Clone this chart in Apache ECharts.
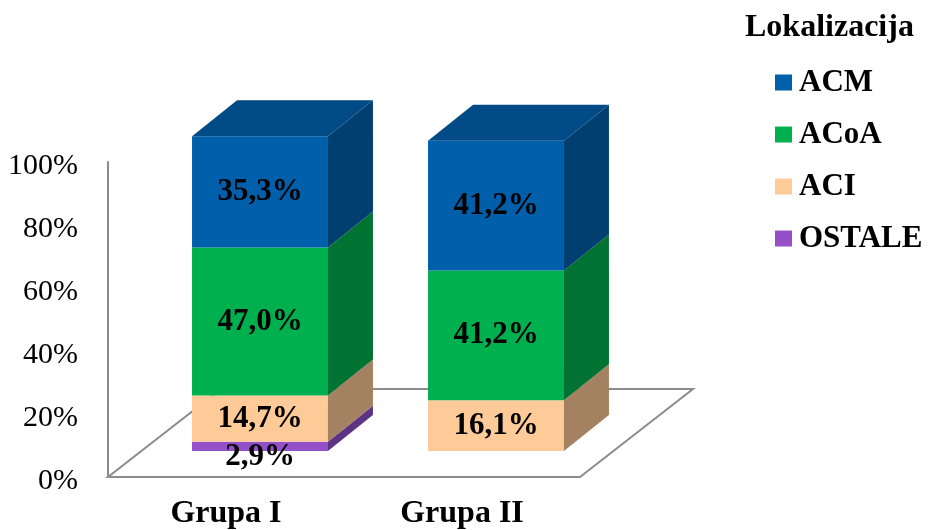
<!DOCTYPE html>
<html>
<head>
<meta charset="utf-8">
<script src="https://cdn.jsdelivr.net/npm/echarts@6/dist/echarts.min.js"></script>
<style>
  html, body { margin: 0; padding: 0; background: #ffffff; }
  #chart { width: 932px; height: 530px; }
</style>
</head>
<body>
<div id="chart"></div>
<script>
// Categories, series values (percent) and y tick labels
var categories = ['Grupa I', 'Grupa II'];
var acm = [35.3, 41.2];
var acoa = [47.0, 41.2];
var aci = [14.7, 16.1];
var ostale = [2.9, 0];
var yTicks = [0, 20, 40, 60, 80, 100];

// Pseudo-3D geometry (pixels)
var FLOOR_DX = 113, FLOOR_DY = -88;   // floor depth
var FRONT_DX = 34, FRONT_DY = -26;    // bar front face set back from floor front edge
var BAR_DX = 45, BAR_DY = -36;        // bar depth
var BAR_RATIO = 0.576;                // bar width / band width

var FONT = "'Liberation Serif', 'Times New Roman', serif";

// Stacking order: bottom first
var stackDefs = [
  { name: 'OSTALE', values: ostale, front: '#9450C8', side: '#5D3484', top: '#7441A3' },
  { name: 'ACI',    values: aci,    front: '#FDCA98', side: '#A48161', top: '#C9A17B' },
  { name: 'ACoA',   values: acoa,   front: '#00B04F', side: '#007231', top: '#008A3D' },
  { name: 'ACM',    values: acm,    front: '#005FAA', side: '#003F70', top: '#004B86' }
];

// Cumulative base/top per category, flag for top-most visible segment
var bases = categories.map(function () { return 0; });
var topIndex = categories.map(function (c, i) {
  var t = -1;
  stackDefs.forEach(function (d, k) { if (d.values[i] > 0) t = k; });
  return t;
});
var stackData = stackDefs.map(function (d, k) {
  return d.values.map(function (v, i) {
    var b = bases[i];
    bases[i] = b + v;
    return [i, b, b + v, v, topIndex[i] === k ? 1 : 0];
  });
});

function fmt(v) {
  return v.toFixed(1).replace('.', ',') + '%';
}

function makeBarRenderer(def) {
  return function (params, api) {
    var cat = api.value(0), base = api.value(1), top = api.value(2);
    var val = api.value(3), isTop = api.value(4);
    if (!(val > 0)) return null;
    var band = api.size([1, 0])[0];
    var w = band * BAR_RATIO;
    var pb = api.coord([cat, base]);
    var pt = api.coord([cat, top]);
    var x0 = pb[0] + FRONT_DX - w / 2, x1 = x0 + w;
    var yb = pb[1] + FRONT_DY, yt = pt[1] + FRONT_DY;
    var children = [
      { type: 'rect', shape: { x: x0, y: yt, width: w, height: yb - yt },
        style: { fill: def.front } },
      { type: 'polygon', shape: { points: [[x1, yb], [x1, yt], [x1 + BAR_DX, yt + BAR_DY], [x1 + BAR_DX, yb + BAR_DY]] },
        style: { fill: def.side } }
    ];
    if (isTop) {
      children.push({ type: 'polygon',
        shape: { points: [[x0, yt], [x1, yt], [x1 + BAR_DX, yt + BAR_DY], [x0 + BAR_DX, yt + BAR_DY]] },
        style: { fill: def.top } });
    }
    var h = yb - yt;
    var ty = (yb + yt) / 2 + (h < 20 ? 11 : 0);
    children.push({ type: 'text', z2: 10,
      style: { text: fmt(val), x: (x0 + x1) / 2, y: ty, align: 'center', verticalAlign: 'middle',
        fontSize: 31, fontWeight: 'bold', fontFamily: FONT, fill: '#000000' } });
    return { type: 'group', children: children };
  };
}

function renderFloor(params, api) {
  var r = params.coordSys;
  var fx0 = r.x, fx1 = r.x + r.width, fy = r.y + r.height;
  return {
    type: 'polygon',
    shape: { points: [[fx0, fy], [fx1, fy], [fx1 + FLOOR_DX, fy + FLOOR_DY], [fx0 + FLOOR_DX, fy + FLOOR_DY]] },
    style: { fill: 'none', stroke: '#8C8C8C', lineWidth: 2 }
  };
}

var series = [{
  type: 'custom', name: 'floor', z: 1, silent: true,
  renderItem: renderFloor, data: [[0, 0]]
}];
stackDefs.forEach(function (d, k) {
  series.push({
    type: 'custom', name: d.name, z: 2 + k,
    itemStyle: { color: d.front },
    renderItem: makeBarRenderer(d),
    encode: { x: 0, y: [1, 2] },
    data: stackData[k]
  });
});

var chart = echarts.init(document.getElementById('chart'), null, { renderer: 'canvas' });
chart.setOption({
  animation: false,
  backgroundColor: '#ffffff',
  title: {
    text: 'Lokalizacija', left: 740, top: 7,
    textStyle: { fontFamily: FONT, fontSize: 32, fontWeight: 'bold', color: '#000000' }
  },
  legend: {
    data: ['ACM', 'ACoA', 'ACI', 'OSTALE'],
    orient: 'vertical', left: 770, top: 62,
    icon: 'rect', itemWidth: 17, itemHeight: 16, itemGap: 21,
    textStyle: { fontFamily: FONT, fontSize: 31, fontWeight: 'bold', color: '#000000',
      lineHeight: 30, padding: [0, 0, 0, 2] }
  },
  grid: { left: 108, right: 352, top: 162, bottom: 52, containLabel: false },
  xAxis: {
    type: 'category', data: categories,
    axisLine: { show: false }, axisTick: { show: false },
    axisLabel: { fontFamily: FONT, fontSize: 32, fontWeight: 'bold', color: '#000000', margin: 21 }
  },
  yAxis: {
    type: 'value', min: yTicks[0], max: yTicks[yTicks.length - 1], interval: yTicks[1] - yTicks[0],
    axisLine: { show: true, lineStyle: { color: '#8C8C8C', width: 2 } },
    axisTick: { show: false }, splitLine: { show: false },
    axisLabel: { margin: 30,
      formatter: function (v) { return '{t|' + v + '%}'; },
      rich: { t: { fontFamily: FONT, fontSize: 30, color: '#000000', padding: [8, 0, 0, 0] } } }
  },
  series: series
});
</script>
</body>
</html>
